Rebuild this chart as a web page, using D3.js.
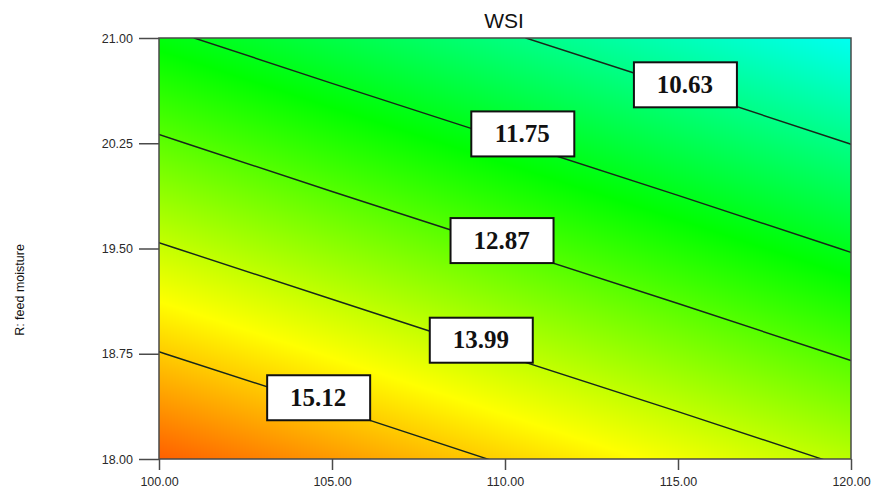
<!DOCTYPE html>
<html><head><meta charset="utf-8">
<script src="https://cdn.jsdelivr.net/npm/d3@7"></script>
<style>body{margin:0;background:#fff}</style>
</head><body>
<svg id="chart" width="880" height="493"></svg>
<script>
// Response surface of WSI over barrel temperature (x) and feed moisture (y)
const temperatures = [100, 105, 110, 115, 120];
const moistures = [18, 18.75, 19.5, 20.25, 21];
// WSI values: one row per moisture level, one column per temperature
const wsiRows = [
  [16.23, 15.65, 15.06, 14.48, 13.89],
  [15.14, 14.56, 13.97, 13.39, 12.80],
  [14.05, 13.46, 12.88, 12.30, 11.71],
  [12.96, 12.37, 11.79, 11.21, 10.62],
  [11.87, 11.28, 10.70, 10.12, 9.53]
];
const contourLevels = [10.63, 11.75, 12.87, 13.99, 15.12];
const labelTemps = [115.2, 110.5, 109.9, 109.3, 104.6];
const labelMoists = [20.67, 20.32, 19.56, 18.85, 18.44];
const xTickValues = [100, 105, 110, 115, 120];
const yTickValues = [18, 18.75, 19.5, 20.25, 21];

const plotLeft = 159, plotRight = 851, plotTop = 38, plotBottom = 459;
const svg = d3.select("#chart");

const x = d3.scaleLinear().domain([100, 120]).range([plotLeft, plotRight]);
const y = d3.scaleLinear().domain([18, 21]).range([plotBottom, plotTop]);

const color = d3.scaleLinear()
  .domain([6.8, 9.4, 12.0, 14.6, 17.2])
  .range(["#0000ff", "#00ffff", "#00ff00", "#ffff00", "#ff0000"])
  .clamp(true);

const nx = temperatures.length, ny = moistures.length;
function wsiAt(t, m) {
  const u = Math.max(0, Math.min(nx - 1.0001, (t - temperatures[0]) / (temperatures[1] - temperatures[0])));
  const v = Math.max(0, Math.min(ny - 1.0001, (m - moistures[0]) / (moistures[1] - moistures[0])));
  const i = Math.floor(u), j = Math.floor(v), fu = u - i, fv = v - j;
  const a = wsiRows[j][i], b = wsiRows[j][i + 1], c = wsiRows[j + 1][i], d = wsiRows[j + 1][i + 1];
  return (a * (1 - fu) + b * fu) * (1 - fv) + (c * (1 - fu) + d * fu) * fv;
}

// Colour-filled surface
const W = plotRight - plotLeft, H = plotBottom - plotTop;
const canvas = document.createElement("canvas");
canvas.width = W; canvas.height = H;
const ctx = canvas.getContext("2d");
const img = ctx.createImageData(W, H);
for (let py = 0; py < H; py++) {
  const m = y.invert(plotTop + py + 0.5);
  for (let px = 0; px < W; px++) {
    const t = x.invert(plotLeft + px + 0.5);
    const c = d3.rgb(color(wsiAt(t, m)));
    const k = (py * W + px) * 4;
    img.data[k] = c.r; img.data[k + 1] = c.g; img.data[k + 2] = c.b; img.data[k + 3] = 255;
  }
}
ctx.putImageData(img, 0, 0);
svg.append("image")
  .attr("x", plotLeft).attr("y", plotTop).attr("width", W).attr("height", H)
  .attr("preserveAspectRatio", "none")
  .attr("href", canvas.toDataURL());

// Contour lines
svg.append("clipPath").attr("id", "plotClip")
  .append("rect").attr("x", plotLeft).attr("y", plotTop).attr("width", W).attr("height", H);

const values = [];
for (let j = 0; j < ny; j++) for (let i = 0; i < nx; i++) values.push(wsiRows[j][i]);
const contours = d3.contours().size([nx, ny]).thresholds(contourLevels)(values);
const gx = d3.scaleLinear().domain([0.5, nx - 0.5]).range([x(temperatures[0]), x(temperatures[nx - 1])]);
const gy = d3.scaleLinear().domain([0.5, ny - 0.5]).range([y(moistures[0]), y(moistures[ny - 1])]);
const ringPath = ring => "M" + ring.map(p => gx(p[0]) + "," + gy(p[1])).join("L") + "Z";

svg.append("g").attr("clip-path", "url(#plotClip)")
  .selectAll("path").data(contours).join("path")
  .attr("d", c => c.coordinates.map(poly => poly.map(ringPath).join("")).join(""))
  .attr("fill", "none")
  .attr("stroke", "#17261a")
  .attr("stroke-width", 1.4);

// Frame
svg.append("rect")
  .attr("x", plotLeft).attr("y", plotTop).attr("width", W).attr("height", H)
  .attr("fill", "none").attr("stroke", "#4a4a4a").attr("stroke-width", 1.5);

// Axes
const fmt = d3.format(".2f");
const yAxis = svg.append("g").attr("transform", `translate(${plotLeft},0)`)
  .call(d3.axisLeft(y).tickValues(yTickValues).tickFormat(fmt).tickSize(20).tickPadding(6));
const xAxis = svg.append("g").attr("transform", `translate(0,${plotBottom})`)
  .call(d3.axisBottom(x).tickValues(xTickValues).tickFormat(fmt).tickSize(11).tickPadding(7));
[yAxis, xAxis].forEach(g => {
  g.select(".domain").remove();
  g.selectAll(".tick line").attr("stroke", "#4a4a4a").attr("stroke-width", 1.5);
  g.selectAll(".tick text").attr("fill", "#2a2a2a").attr("font-size", 12.5)
    .attr("font-family", "Liberation Sans, Arial, sans-serif");
});

// Contour value labels
const labels = svg.append("g").selectAll("g").data(contourLevels).join("g")
  .attr("transform", (d, i) => `translate(${x(labelTemps[i])},${y(labelMoists[i])})`);
labels.append("rect")
  .attr("x", -51).attr("y", -22).attr("width", 103).attr("height", 45)
  .attr("fill", "#fff").attr("stroke", "#111").attr("stroke-width", 2);
labels.append("text")
  .attr("text-anchor", "middle").attr("dy", "0.35em")
  .attr("font-family", "Liberation Serif, Times New Roman, serif")
  .attr("font-weight", "bold").attr("font-size", 25).attr("fill", "#111")
  .text(d => fmt(d));

// Title and axis label
svg.append("text").attr("x", 504).attr("y", 28).attr("text-anchor", "middle")
  .attr("font-family", "Liberation Sans, Arial, sans-serif").attr("font-size", 21).attr("fill", "#111")
  .text("WSI");
svg.append("text").attr("transform", "translate(24,290) rotate(-90)").attr("text-anchor", "middle")
  .attr("font-family", "Liberation Sans, Arial, sans-serif").attr("font-size", 12.5).attr("fill", "#111")
  .text("R: feed moisture");
</script>
</body></html>
